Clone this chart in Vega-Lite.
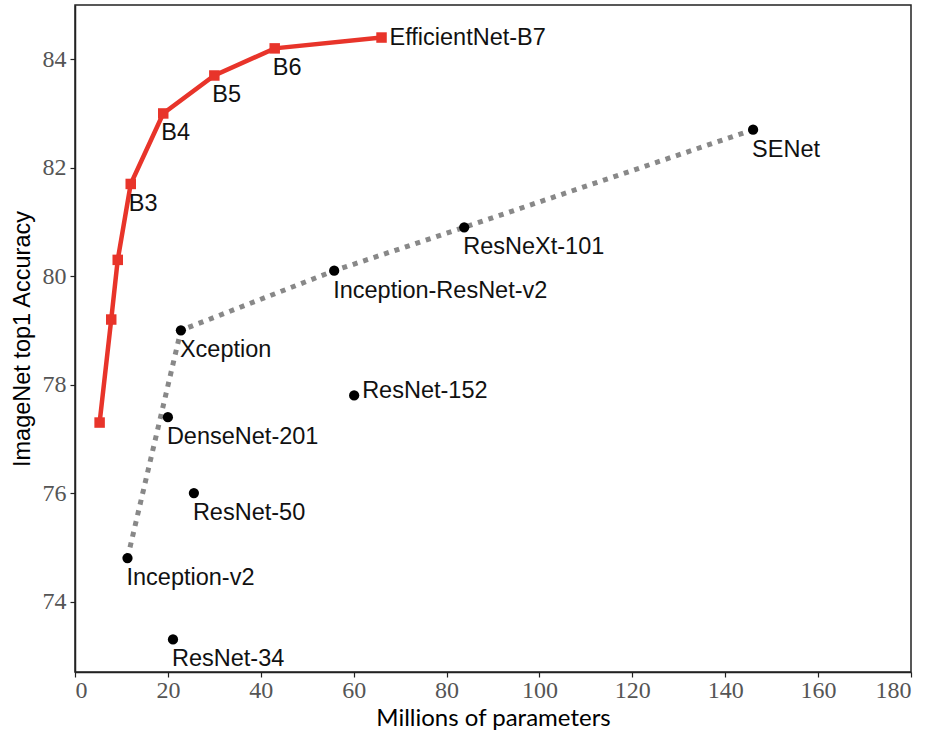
{
  "$schema": "https://vega.github.io/schema/vega-lite/v6.json",
  "autosize": "none",
  "width": 836,
  "height": 667,
  "padding": {"left": 75, "top": 5, "right": 24, "bottom": 60},
  "background": "white",
  "config": {
    "view": {"stroke": "#222", "strokeWidth": 1.5},
    "axis": {
      "grid": false,
      "domainColor": "#222",
      "domainWidth": 1.5,
      "tickColor": "#222",
      "tickSize": 5,
      "tickWidth": 1.2,
      "labelFont": "Liberation Serif",
      "labelFontSize": 24,
      "labelColor": "#555",
      "titleColor": "#000",
      "titleFontWeight": "normal"
    }
  },
  "datasets": {
    "eff": [
      {"name": "B0", "params": 5.3, "acc": 77.3},
      {"name": "B1", "params": 7.8, "acc": 79.2},
      {"name": "B2", "params": 9.2, "acc": 80.3},
      {"name": "B3", "params": 12, "acc": 81.7},
      {"name": "B4", "params": 19, "acc": 83.0},
      {"name": "B5", "params": 30, "acc": 83.7},
      {"name": "B6", "params": 43, "acc": 84.2},
      {"name": "EfficientNet-B7", "params": 66, "acc": 84.4}
    ],
    "others": [
      {"name": "Inception-v2", "params": 11.3, "acc": 74.8, "frontier": 1},
      {"name": "Xception", "params": 22.8, "acc": 79.0, "frontier": 2},
      {"name": "Inception-ResNet-v2", "params": 55.8, "acc": 80.1, "frontier": 3},
      {"name": "ResNeXt-101", "params": 83.8, "acc": 80.9, "frontier": 4},
      {"name": "SENet", "params": 146, "acc": 82.7, "frontier": 5},
      {"name": "DenseNet-201", "params": 20.0, "acc": 77.4, "frontier": 0},
      {"name": "ResNet-50", "params": 25.6, "acc": 76.0, "frontier": 0},
      {"name": "ResNet-152", "params": 60.1, "acc": 77.8, "frontier": 0},
      {"name": "ResNet-34", "params": 21.1, "acc": 73.3, "frontier": 0}
    ]
  },
  "encoding": {
    "x": {
      "field": "params", "type": "quantitative",
      "scale": {"domain": [0, 180], "nice": false, "zero": false},
      "axis": {"values": [0, 20, 40, 60, 80, 100, 120, 140, 160, 180], "title": "Millions of parameters", "titleFont": "Lato", "titleFontSize": 24, "titlePadding": 4, "labelPadding": 1}
    },
    "y": {
      "field": "acc", "type": "quantitative",
      "scale": {"domain": [72.7, 85.0], "nice": false, "zero": false},
      "axis": {"values": [74, 76, 78, 80, 82, 84], "title": "ImageNet top1 Accuracy", "titleFont": "Liberation Sans", "titleFontSize": 23.5, "titlePadding": 8, "labelPadding": 4}
    }
  },
  "layer": [
    {
      "data": {"name": "others"},
      "transform": [{"filter": "datum.frontier > 0"}],
      "mark": {"type": "line", "color": "#888888", "strokeWidth": 5, "strokeDash": [5, 6]},
      "encoding": {"order": {"field": "frontier", "type": "quantitative"}}
    },
    {
      "data": {"name": "others"},
      "mark": {"type": "circle", "color": "#000000", "opacity": 1, "size": 105}
    },
    {
      "data": {"name": "eff"},
      "mark": {"type": "line", "color": "#e8342a", "strokeWidth": 4.5, "point": {"shape": "square", "size": 110, "color": "#e8342a", "filled": true, "opacity": 1}}
    },
    {
      "data": {"name": "eff"},
      "transform": [{"filter": "datum.name != 'B0' && datum.name != 'B1' && datum.name != 'B2' && datum.name != 'EfficientNet-B7'"}],
      "mark": {"type": "text", "font": "Liberation Sans", "fontSize": 23.5, "align": "left", "baseline": "middle", "dx": -2, "dy": 20, "color": "#111"},
      "encoding": {"text": {"field": "name"}}
    },
    {
      "data": {"name": "eff"},
      "transform": [{"filter": "datum.name == 'EfficientNet-B7'"}],
      "mark": {"type": "text", "font": "Liberation Sans", "fontSize": 23.5, "align": "left", "baseline": "middle", "dx": 8, "dy": 0, "color": "#111"},
      "encoding": {"text": {"field": "name"}}
    },
    {
      "data": {"name": "others"},
      "transform": [{"filter": "datum.name != 'ResNet-152'"}],
      "mark": {"type": "text", "font": "Liberation Sans", "fontSize": 23.5, "align": "left", "baseline": "middle", "dx": -1, "dy": 20, "color": "#111"},
      "encoding": {"text": {"field": "name"}}
    },
    {
      "data": {"name": "others"},
      "transform": [{"filter": "datum.name == 'ResNet-152'"}],
      "mark": {"type": "text", "font": "Liberation Sans", "fontSize": 23.5, "align": "left", "baseline": "middle", "dx": 8, "dy": -4, "color": "#111"},
      "encoding": {"text": {"field": "name"}}
    }
  ]
}
